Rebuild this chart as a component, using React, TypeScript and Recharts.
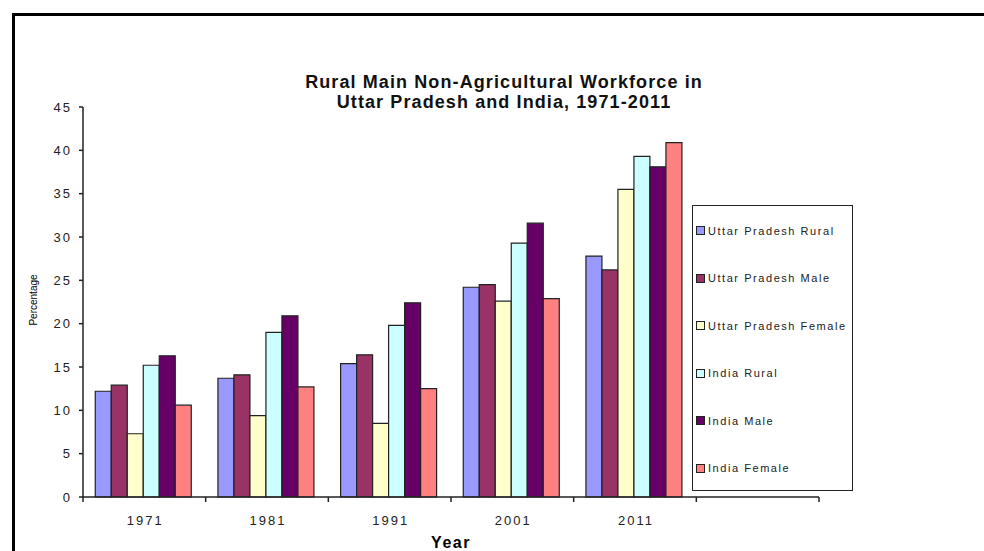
import React from 'react';
import { BarChart, Bar, XAxis, YAxis, Legend } from 'recharts';

const years = ['1971', '1981', '1991', '2001', '2011', ''];
const yTicks = [0, 5, 10, 15, 20, 25, 30, 35, 40, 45];

const upRural = [12.2, 13.7, 15.4, 24.2, 27.8, null];
const upMale = [12.9, 14.1, 16.4, 24.5, 26.2, null];
const upFemale = [7.3, 9.4, 8.5, 22.6, 35.5, null];
const indiaRural = [15.2, 19.0, 19.8, 29.3, 39.3, null];
const indiaMale = [16.3, 20.9, 22.4, 31.6, 38.1, null];
const indiaFemale = [10.6, 12.7, 12.5, 22.9, 40.9, null];

const seriesNames = [
  'Uttar Pradesh Rural',
  'Uttar Pradesh Male',
  'Uttar Pradesh Female',
  'India Rural',
  'India Male',
  'India Female',
];
const seriesColors = ['#9999FF', '#993366', '#FFFFCC', '#CCFFFF', '#660066', '#FF8080'];
const seriesKeys = ['upRural', 'upMale', 'upFemale', 'indiaRural', 'indiaMale', 'indiaFemale'];

const data = years.map((y, i) => ({
  year: y,
  upRural: upRural[i],
  upMale: upMale[i],
  upFemale: upFemale[i],
  indiaRural: indiaRural[i],
  indiaMale: indiaMale[i],
  indiaFemale: indiaFemale[i],
}));

const W = 984;
const H = 551;
const M = { top: 107, right: 165, bottom: 24, left: 0 };
const Y_AXIS_W = 83;
const X_AXIS_H = 30;
const PLOT_W = W - M.left - M.right - Y_AXIS_W;
const BAND = PLOT_W / years.length;
const FONT = '"Liberation Sans", Arial, sans-serif';
const AXIS_COLOR = '#222';

const XTick = (props: any) => {
  const { x, y, payload, index } = props;
  const last = index === years.length - 1;
  return (
    <g>
      <line x1={x - BAND / 2} y1={y} x2={x - BAND / 2} y2={y + 5} stroke={AXIS_COLOR} strokeWidth={1.5} />
      {last && <line x1={x + BAND / 2} y1={y} x2={x + BAND / 2} y2={y + 5} stroke={AXIS_COLOR} strokeWidth={1.5} />}
      <text x={x + 1} y={y + 28} textAnchor="middle" fontSize={13} fontFamily={FONT} fill="#222" letterSpacing={2}>
        {payload.value}
      </text>
    </g>
  );
};

const YTick = (props: any) => {
  const { x, y, payload } = props;
  return (
    <text x={x} y={y + 4.5} textAnchor="end" fontSize={13} fontFamily={FONT} fill="#222" letterSpacing={2}>
      {payload.value}
    </text>
  );
};

const LegendBox = () => (
  <div
    style={{
      width: 161,
      height: 286,
      border: '1.5px solid #222',
      background: '#fff',
      position: 'relative',
      boxSizing: 'border-box',
    }}
  >
    {seriesNames.map((n, i) => (
      <div
        key={n}
        style={{
          position: 'absolute',
          left: 3,
          top: 18 + i * 47.5,
          height: 13,
          display: 'flex',
          alignItems: 'center',
          whiteSpace: 'nowrap',
        }}
      >
        <span
          style={{
            display: 'inline-block',
            width: 7,
            height: 7,
            background: seriesColors[i],
            border: '1px solid #222',
            marginRight: 3,
          }}
        />
        <span style={{ fontFamily: FONT, fontSize: 11, color: '#222', letterSpacing: 1.55 }}>{n}</span>
      </div>
    ))}
  </div>
);

export default function App() {
  return (
    <div style={{ position: 'absolute', left: 0, top: 0, width: W, height: H, overflow: 'hidden', background: '#fff' }}>
      <div
        style={{
          position: 'absolute',
          left: 12,
          top: 13,
          width: 1100,
          height: 700,
          borderLeft: '3px solid #000',
          borderTop: '3px solid #000',
        }}
      />
      <div style={{ position: 'absolute', left: 0, top: 0 }}>
        <BarChart width={W} height={H} data={data} margin={M} barCategoryGap="10%" barGap={0}>
          <XAxis
            dataKey="year"
            height={X_AXIS_H}
            interval={0}
            tickSize={0}
            tickMargin={0}
            tickLine={false}
            tick={<XTick />}
            axisLine={{ stroke: AXIS_COLOR, strokeWidth: 1.5 }}
            label={{
              content: () => (
                <text
                  x={451}
                  y={548}
                  textAnchor="middle"
                  fontFamily={FONT}
                  fontSize={16}
                  fontWeight="bold"
                  fill="#000"
                  letterSpacing={1.5}
                >
                  Year
                </text>
              ),
            }}
          />
          <YAxis
            width={Y_AXIS_W}
            domain={[0, 45]}
            ticks={yTicks}
            interval={0}
            tickSize={4}
            tickMargin={7}
            tick={<YTick />}
            tickLine={{ stroke: AXIS_COLOR, strokeWidth: 1.5 }}
            axisLine={{ stroke: AXIS_COLOR, strokeWidth: 1.5 }}
            label={{
              content: () => (
                <text
                  transform="translate(37,300) rotate(-90)"
                  textAnchor="middle"
                  fontFamily={FONT}
                  fontSize={10}
                  fill="#000"
                >
                  Percentage
                </text>
              ),
            }}
          />
          {seriesKeys.map((k, i) => (
            <Bar
              key={k}
              dataKey={k}
              name={seriesNames[i]}
              fill={seriesColors[i]}
              stroke="#222"
              strokeWidth={1.2}
              isAnimationActive={false}
            />
          ))}
          <Legend
            layout="vertical"
            align="center"
            verticalAlign="middle"
            content={<LegendBox />}
            wrapperStyle={{ position: 'absolute', left: 692, top: 205, width: 161, height: 286 }}
          />
        </BarChart>
      </div>
      <svg width={W} height={H} style={{ position: 'absolute', left: 0, top: 0, pointerEvents: 'none' }}>
        <text
          x={504}
          y={88}
          textAnchor="middle"
          fontFamily={FONT}
          fontSize={18}
          fontWeight="bold"
          fill="#111"
          letterSpacing={1.1}
        >
          Rural Main Non-Agricultural Workforce in
        </text>
        <text
          x={504}
          y={108}
          textAnchor="middle"
          fontFamily={FONT}
          fontSize={18}
          fontWeight="bold"
          fill="#111"
          letterSpacing={1.1}
        >
          Uttar Pradesh and India, 1971-2011
        </text>
      </svg>
    </div>
  );
}
